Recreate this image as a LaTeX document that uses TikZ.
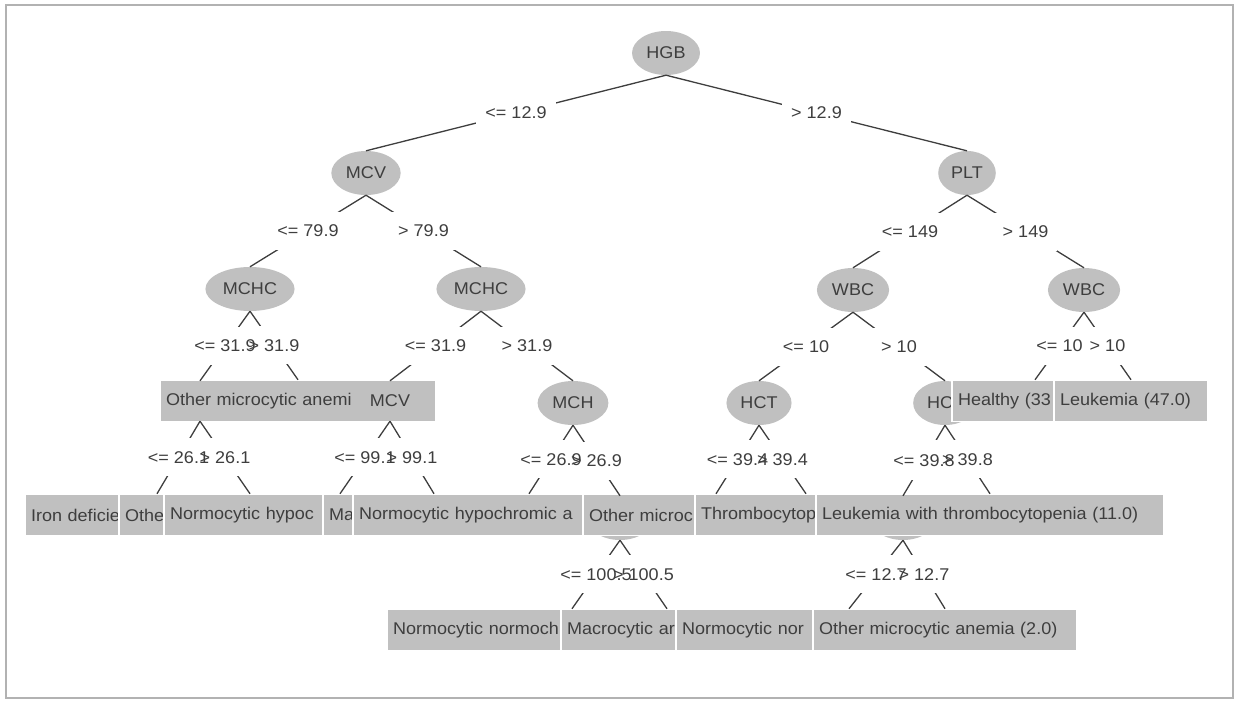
\documentclass[tikz,border=0pt]{standalone}
\usepackage{fontspec}
\setmainfont{Liberation Sans}[FakeStretch=1.06]
\usetikzlibrary{shapes.geometric}
\definecolor{wekagray}{RGB}{192,192,192}
\definecolor{inkgray}{RGB}{62,62,62}
\newcommand{\wfont}{\fontsize{17}{20}\selectfont}
\newcommand{\edgelist}{hgb/mcv/{<= 12.9}, hgb/plt/{> 12.9},
  mcv/mchcA/{<= 79.9}, mcv/mchcB/{> 79.9}, plt/wbcA/{<= 149}, plt/wbcB/{> 149},
  mchcA/hidA/{<= 31.9}, mchcA/omaA/{> 31.9}, mchcB/mcvB/{<= 31.9}, mchcB/mch/{> 31.9},
  wbcA/hct/{<= 10}, wbcA/hctB/{> 10}, wbcB/healthy/{<= 10}, wbcB/leukA/{> 10},
  hidA/iron/{<= 26.1}, hidA/othA/{> 26.1}, mcvB/nhypA/{<= 99.1}, mcvB/macA/{> 99.1},
  mch/nhypB/{<= 26.9}, mch/hidB/{> 26.9}, hct/othB/{<= 39.4}, hct/thrombo/{> 39.4},
  hctB/hidC/{<= 39.8}, hctB/leukB/{> 39.8},
  hidB/nnormA/{<= 100.5}, hidB/macB/{> 100.5}, hidC/nnormB/{<= 12.7}, hidC/othC/{> 12.7}}

\begin{document}
\begin{tikzpicture}[x=1pt, y=-1pt,
  split/.style={ellipse, fill=wekagray, minimum height=44pt, inner xsep=4.5pt, text=inkgray, font=\wfont},
  leaf/.style={rectangle, fill=wekagray, draw=white, line width=1.5pt, minimum height=41pt,
    inner xsep=6pt, align=left, text=inkgray, font=\wfont},
  elab/.style={inner xsep=9pt, minimum height=38pt, text=inkgray, font=\wfont},
  edge/.style={draw=inkgray, line width=1.3pt}]
\useasboundingbox (0,0) rectangle (1239,702);
\draw[black!30, line width=2pt] (6,5) rectangle (1233,698);

\node[split] (hgb) at (666,53) {HGB};
\node[split] (mcv) at (366,173) {MCV};
\node[split] (plt) at (967,173) {PLT};
\node[split] (mchcA) at (250,289) {MCHC};
\node[split] (mchcB) at (481,289) {MCHC};
\node[split] (wbcA) at (853,290) {WBC};
\node[split] (wbcB) at (1084,290) {WBC};

\node[split, minimum width=66pt, minimum height=40pt] (hidA) at (200,401) {};
\node[leaf, text width=264pt] (omaA) at (298,401) {Other microcytic anemi};
\node[split, minimum height=40pt] (mcvB) at (390,401) {MCV};
\node[split] (mch) at (573,403) {MCH};
\node[split] (hct) at (759,403) {HCT};
\node[split] (hctB) at (945,403) {\makebox[36pt][l]{HC}};
\node[leaf, text width=154pt] (healthy) at (1035,401) {Healthy (33};
\node[leaf, text width=142pt] (leukA) at (1131,401) {Leukemia (47.0)};

\node[split, minimum width=66pt] (hidB) at (620,518) {};
\node[split, minimum width=66pt] (hidC) at (903,518) {};
\node[leaf, text width=252pt] (iron) at (157,515) {Iron deficie};
\node[leaf, text width=250pt] (othA) at (250,515) {Othe};
\node[leaf, text width=340pt] (nhypA) at (340,515) {Normocytic hypoc};
\node[leaf, text width=210pt] (macA) at (434,515) {Ma};
\node[leaf, text width=340pt] (nhypB) at (529,515) {Normocytic hypochromic a};
\node[leaf, text width=254pt] (othB) at (716,515) {Other microc};
\node[leaf, text width=210pt] (thrombo) at (806,515) {Thrombocytop};
\node[leaf, text width=336pt] (leukB) at (990,515) {Leukemia with thrombocytopenia (11.0)};

\node[leaf, text width=358pt] (nnormA) at (572,630) {Normocytic normoch};
\node[leaf, text width=200pt] (macB) at (667,630) {Macrocytic ar};
\node[leaf, text width=334pt] (nnormB) at (849,630) {Normocytic nor};
\node[leaf, text width=252pt] (othC) at (945,630) {Other microcytic anemia (2.0)};

\foreach \p/\c/\t in \edgelist
  \draw[edge] (\p.south) -- (\c.north) node[elab, midway, fill=white] {\phantom{\t}};
\foreach \p/\c/\t in \edgelist
  \path (\p.south) -- (\c.north) node[elab, midway] {\t};
\end{tikzpicture}
\end{document}
